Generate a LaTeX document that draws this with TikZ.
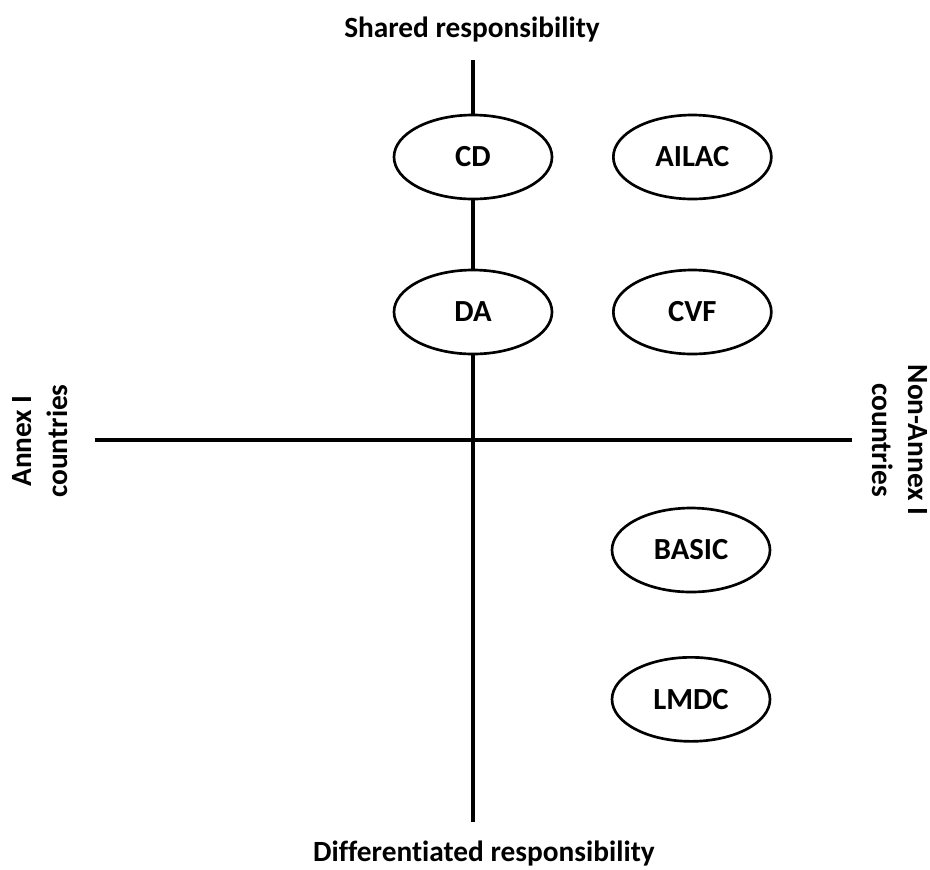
\documentclass[tikz,border=0pt]{standalone}
\usepackage{fontspec}
\setmainfont{Carlito}[Ligatures=CommonOff]
\usetikzlibrary{shapes.geometric,positioning}
\tikzset{
  grp/.style  ={ellipse, draw=black, line width=2pt, fill=white,
                minimum width=118.5pt, minimum height=63pt, inner sep=0pt,
                font=\bfseries\fontsize{23}{27}\selectfont},
  axln/.style ={line width=3pt, draw=black},
  lbl/.style  ={font=\bfseries\fontsize{22}{27}\selectfont, align=center, inner sep=0pt}
}
\begin{document}
\begin{tikzpicture}[x=0.75pt, y=-0.75pt]
\useasboundingbox (0,0) rectangle (930,869);
% axes
\coordinate (top)   at (473,60);
\coordinate (bot)   at (473,822);
\coordinate (left)  at (95,440);
\coordinate (right) at (852,440);
\draw[axln] (top) -- (bot);
\draw[axln] (left) -- (right);

% axis labels
\node[lbl, anchor=base] (shr)  at (472,37)  {Shared responsibility};
\node[lbl, anchor=base] (dif)  at (484,861) {Differentiated responsibility};
\node[lbl, rotate=90]   (ann)  at (40,441)  {Annex I\\countries};
\node[lbl, rotate=-90]  (nann) at (900,440) {Non-Annex I\\countries};

% negotiating groups
\node[grp] (cd)  at (473,157) {CD};
\node[grp, right=44pt of cd]  (ailac) {AILAC};
\node[grp] (da)  at (473,312) {DA};
\node[grp, right=44pt of da]  (cvf)   {CVF};
\node[grp] (basic) at (691,550) {BASIC};
\node[grp, below=47pt of basic] (lmdc) {LMDC};
\end{tikzpicture}
\end{document}
